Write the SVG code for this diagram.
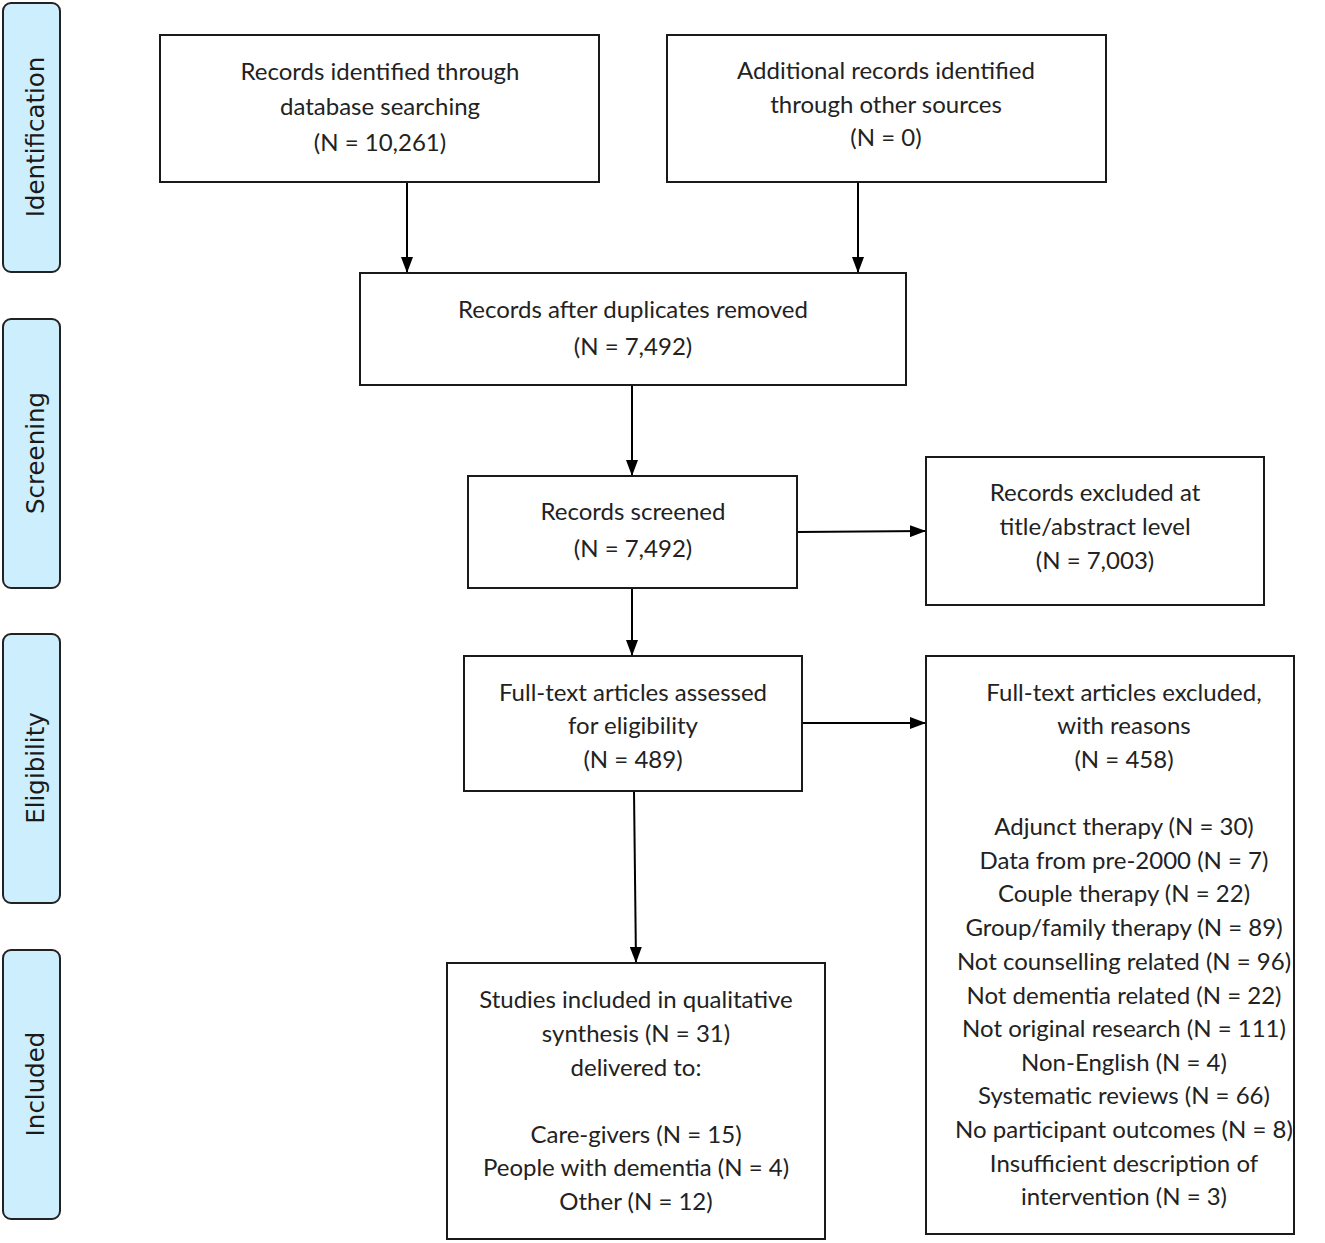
<svg xmlns="http://www.w3.org/2000/svg" width="1325" height="1243" viewBox="0 0 1325 1243">
<defs>
<style>
.box{fill:#fff;stroke:#1a1a1a;stroke-width:2}
.side{fill:#cdeefc;stroke:#222;stroke-width:2}
.t{font-family:Lato,"Liberation Sans",sans-serif;font-size:24px;fill:#222;text-anchor:middle}
.s{font-family:"DejaVu Sans",sans-serif;font-size:24.5px;fill:#1a1a1a;text-anchor:middle}
.c{stroke:#000;stroke-width:2;fill:none;marker-end:url(#ah)}
</style>
<marker id="ah" viewBox="0 0 16 12" refX="16" refY="6" markerWidth="16" markerHeight="12" markerUnits="userSpaceOnUse" orient="auto">
<path d="M0,0 L16,6 L0,12 z" fill="#000"/>
</marker>
</defs>
<rect width="1325" height="1243" fill="#fff"/>
<g id="side-identification"><rect class="side" x="3" y="3" width="57" height="269" rx="8"/><text class="s" transform="translate(44,137) rotate(-90)">Identification</text></g>
<g id="side-screening"><rect class="side" x="3" y="319" width="57" height="269" rx="8"/><text class="s" transform="translate(44,453) rotate(-90)">Screening</text></g>
<g id="side-eligibility"><rect class="side" x="3" y="634" width="57" height="269" rx="8"/><text class="s" transform="translate(44,768) rotate(-90)">Eligibility</text></g>
<g id="side-included"><rect class="side" x="3" y="950" width="57" height="269" rx="8"/><text class="s" transform="translate(44,1084) rotate(-90)">Included</text></g>

<g id="connectors">
<path class="c" d="M407,182 V273"/>
<path class="c" d="M858,182 V273"/>
<path class="c" d="M632,385 V476"/>
<path class="c" d="M797,532 L926,531"/>
<path class="c" d="M632,588 V656"/>
<path class="c" d="M802,723 H926"/>
<path class="c" d="M634,791 L636,963"/>
</g>

<g id="n1"><rect class="box" x="160" y="35" width="439" height="147"/>
<text class="t" x="380" y="80">Records identified through</text>
<text class="t" x="380" y="115">database searching</text>
<text class="t" x="380" y="151">(N = 10,261)</text></g>
<g id="n2"><rect class="box" x="667" y="35" width="439" height="147"/>
<text class="t" x="886" y="79">Additional records identified</text>
<text class="t" x="886" y="113">through other sources</text>
<text class="t" x="886" y="146">(N = 0)</text></g>
<g id="n3"><rect class="box" x="360" y="273" width="546" height="112"/>
<text class="t" x="633" y="318">Records after duplicates removed</text>
<text class="t" x="633" y="355">(N = 7,492)</text></g>
<g id="n4"><rect class="box" x="468" y="476" width="329" height="112"/>
<text class="t" x="633" y="520">Records screened</text>
<text class="t" x="633" y="557">(N = 7,492)</text></g>
<g id="n5"><rect class="box" x="926" y="457" width="338" height="148"/>
<text class="t" x="1095" y="501">Records excluded at</text>
<text class="t" x="1095" y="535">title/abstract level</text>
<text class="t" x="1095" y="569">(N = 7,003)</text></g>
<g id="n6"><rect class="box" x="464" y="656" width="338" height="135"/>
<text class="t" x="633" y="701">Full-text articles assessed</text>
<text class="t" x="633" y="734">for eligibility</text>
<text class="t" x="633" y="768">(N = 489)</text></g>
<g id="n7"><rect class="box" x="926" y="656" width="368" height="578"/>
<text class="t" x="1124" y="701">Full-text articles excluded,</text>
<text class="t" x="1124" y="734">with reasons</text>
<text class="t" x="1124" y="768">(N = 458)</text>
<text class="t" x="1124" y="835">Adjunct therapy (N = 30)</text>
<text class="t" x="1124" y="869">Data from pre-2000 (N = 7)</text>
<text class="t" x="1124" y="902">Couple therapy (N = 22)</text>
<text class="t" x="1124" y="936">Group/family therapy (N = 89)</text>
<text class="t" x="1124" y="970">Not counselling related (N = 96)</text>
<text class="t" x="1124" y="1004">Not dementia related (N = 22)</text>
<text class="t" x="1124" y="1037">Not original research (N = 111)</text>
<text class="t" x="1124" y="1071">Non-English (N = 4)</text>
<text class="t" x="1124" y="1104">Systematic reviews (N = 66)</text>
<text class="t" x="1124" y="1138">No participant outcomes (N = 8)</text>
<text class="t" x="1124" y="1172">Insufficient description of</text>
<text class="t" x="1124" y="1205">intervention (N = 3)</text></g>
<g id="n8"><rect class="box" x="447" y="963" width="378" height="276"/>
<text class="t" x="636" y="1008">Studies included in qualitative</text>
<text class="t" x="636" y="1042">synthesis (N = 31)</text>
<text class="t" x="636" y="1076">delivered to:</text>
<text class="t" x="636" y="1143">Care-givers (N = 15)</text>
<text class="t" x="636" y="1176">People with dementia (N = 4)</text>
<text class="t" x="636" y="1210">Other (N = 12)</text></g>
</svg>
